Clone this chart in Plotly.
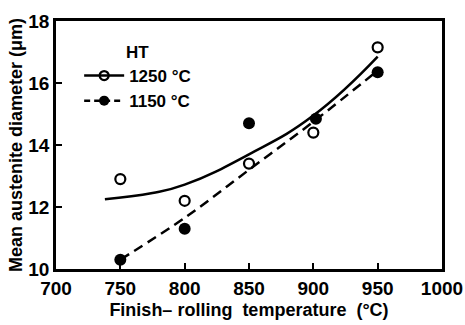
import plotly.graph_objects as go

# Measured grain sizes (Mean austenite diameter, um) vs finish-rolling temperature
temps = [750, 800, 850, 900, 950]
d_1250 = [12.9, 12.2, 13.4, 14.4, 17.15]
temps_1150 = [750, 800, 850, 902, 950]
d_1150 = [10.3, 11.3, 14.7, 14.85, 16.35]

# Hand-drawn trend curves
curve_1250_x = [738, 775, 800, 850, 900, 950]
curve_1250_y = [12.25, 12.45, 12.72, 13.7, 14.95, 16.85]
curve_1150_x = [750, 800, 850, 900, 950]
curve_1150_y = [10.3, 11.65, 13.2, 14.75, 16.4]

x_ticks = [700, 750, 800, 850, 900, 950, 1000]
y_ticks = [10, 12, 14, 16, 18]

FONT = "Liberation Sans"
DASH = "10px,6px"

fig = go.Figure()

fig.add_trace(go.Scatter(x=curve_1250_x, y=curve_1250_y, mode="lines",
                         line=dict(color="black", width=2.5, shape="spline", smoothing=1.3),
                         showlegend=False, hoverinfo="skip"))
fig.add_trace(go.Scatter(x=curve_1150_x, y=curve_1150_y, mode="lines",
                         line=dict(color="black", width=2.5, dash=DASH, shape="spline"),
                         showlegend=False, hoverinfo="skip"))
fig.add_trace(go.Scatter(x=temps, y=d_1250, mode="markers",
                         marker=dict(symbol="circle-open", size=10, color="black",
                                     line=dict(width=2.2, color="black")),
                         showlegend=False))
fig.add_trace(go.Scatter(x=temps_1150, y=d_1150, mode="markers",
                         marker=dict(symbol="circle", size=12, color="black"),
                         showlegend=False))

# Legend entries (line + marker samples)
fig.add_trace(go.Scatter(x=[None], y=[None], mode="lines+markers", name="1250 °C",
                         line=dict(color="black", width=2.5),
                         marker=dict(symbol="circle-open", size=9, color="black",
                                     line=dict(width=2.2, color="black"))))
fig.add_trace(go.Scatter(x=[None], y=[None], mode="lines+markers", name="1150 °C",
                         line=dict(color="black", width=2.5, dash="6px,4px"),
                         marker=dict(symbol="circle", size=10, color="black")))

fig.update_layout(
    width=465, height=325,
    margin=dict(l=56, r=23, t=21, b=56),
    plot_bgcolor="white", paper_bgcolor="white",
    font=dict(family=FONT, color="black"),
    legend=dict(x=0.06, y=0.94, xanchor="left", yanchor="top",
                bgcolor="rgba(0,0,0,0)",
                title=dict(text="<b>HT</b>", side="top center",
                           font=dict(size=17, family=FONT)),
                font=dict(size=17, family=FONT, weight="bold"),
                tracegroupgap=2, itemwidth=40),
)

fig.update_xaxes(
    range=[700, 1000], tickvals=x_ticks, ticktext=[str(v) for v in x_ticks],
    ticks="inside", ticklen=6, tickwidth=2, tickcolor="black",
    showline=True, linecolor="black", linewidth=2.5, mirror=True,
    showgrid=False, zeroline=False, automargin=False,
    tickfont=dict(size=19, family=FONT, weight="bold"),
    title=dict(text="<b>Finish– rolling  temperature  (°C)</b>",
               font=dict(size=18, family=FONT), standoff=6),
)
fig.update_yaxes(
    range=[10, 18], tickvals=y_ticks, ticktext=[str(v) for v in y_ticks],
    ticks="inside", ticklen=6, tickwidth=2, tickcolor="black",
    showline=True, linecolor="black", linewidth=2.5, mirror=True,
    showgrid=False, zeroline=False, automargin=False,
    tickfont=dict(size=19, family=FONT, weight="bold"),
    title=dict(text="<b>Mean austenite diameter (μm)</b>",
               font=dict(size=18, family=FONT), standoff=2),
)

fig.write_html("out.html")
